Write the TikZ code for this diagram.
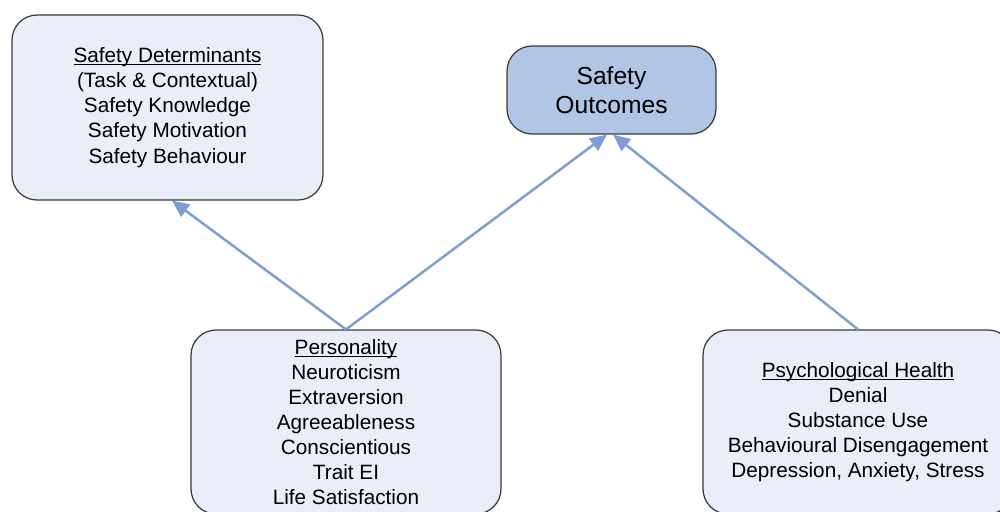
\documentclass[tikz,border=0pt]{standalone}
\usepackage{fontspec}
\setmainfont{Liberation Sans}
\usepackage{xcolor}
\usetikzlibrary{arrows.meta}

\definecolor{boxfill}{RGB}{233,238,248}
\definecolor{outfill}{RGB}{177,197,228}
\definecolor{boxline}{RGB}{58,58,58}
\definecolor{arrowblue}{RGB}{125,158,210}

% underline close to the baseline
\newcommand{\ulhead}[1]{{\setbox0\hbox{#1}\rlap{\rule[-1.5pt]{\wd0}{0.55pt}}\box0}}

\begin{document}
\begin{tikzpicture}[x=0.02cm, y=-0.02cm,
	box/.style={draw=boxline, line width=0.7pt, fill=boxfill, rounded corners=0.5cm,
		align=center, inner sep=0pt, font=\fontsize{11.8pt}{14.3pt}\selectfont},
	link/.style={draw=arrowblue, line width=1.4pt, -{Triangle[length=0.34cm, width=0.3cm]}}]
	% Frame:
	\useasboundingbox (0, 0) rectangle (1000, 511);
	\clip (0, 0) rectangle (1000, 511);
	% Boxes:
	\node[box, minimum width=6.22cm, minimum height=3.7cm](det) at (167.5, 107.5)
		{\ulhead{Safety Determinants}\\(Task \& Contextual)\\Safety Knowledge\\Safety Motivation\\Safety Behaviour};
	\node[box, fill=outfill, minimum width=4.18cm, minimum height=1.76cm,
		font=\fontsize{14pt}{16.5pt}\selectfont](out) at (611.5, 90)
		{Safety\\Outcomes};
	\node[box, minimum width=6.2cm, minimum height=3.68cm](pers) at (346, 422)
		{\ulhead{Personality}\\Neuroticism\\Extraversion\\Agreeableness\\Conscientious\\Trait EI\\Life Satisfaction};
	\node[box, minimum width=6.2cm, minimum height=3.68cm](health) at (858, 422)
		{\ulhead{Psychological Health}\\Denial\\Substance Use\\Behavioural Disengagement\\Depression, Anxiety, Stress};
	% Arrows:
	\draw[link] (pers.north) -- ([xshift=0.09cm]det.south);
	\draw[link] (pers.north) -- ([xshift=-0.09cm]out.south);
	\draw[link] (health.north) -- ([xshift=0.03cm]out.south);
\end{tikzpicture}
\end{document}
